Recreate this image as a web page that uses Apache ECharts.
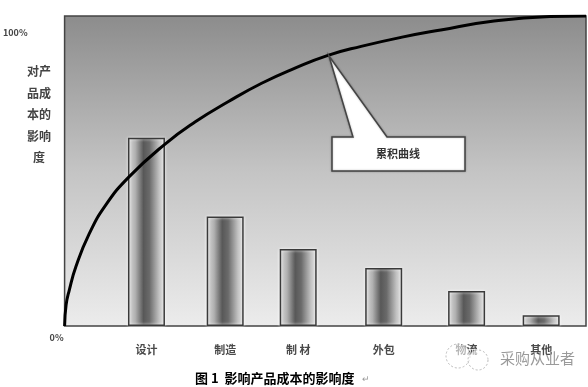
<!DOCTYPE html>
<html><head><meta charset="utf-8">
<script src="https://cdn.jsdelivr.net/npm/echarts@6/dist/echarts.min.js"></script>
<style>html,body{margin:0;padding:0;background:#fff}#c{width:588px;height:387px}</style>
</head><body><div id="c"></div>
<script>
const categories = ['设计', '制造', '制 材', '外包', '物流', '其他'];
const barPositions = [15.7, 30.8, 44.8, 61.2, 77.1, 91.4];
const barValues = [60.7, 35.3, 24.8, 18.7, 11.3, 3.5];
const curveX = [0, 0.29, 0.9, 2.16, 4.71, 7.88, 12.35, 19.27, 25.0, 31.43, 37.79, 44.08, 50.51, 56.87, 64.5, 72.14, 81.68, 93.13, 100];
const curveY = [0, 6.8, 11.6, 19.1, 29.7, 39.0, 48.1, 58.7, 65.8, 72.4, 78.3, 83.1, 87.3, 90.2, 93.1, 95.5, 98.2, 99.8, 100];
const yTickValues = [0, 100];
const yTickLabels = ['0%', '100%'];
const yAxisTitle = '对产\n品成\n本的\n影响\n度';
const calloutText = '累积曲线';
const caption = '图 1  影响产品成本的影响度';
const watermark = '采购从业者';

const FONT = '"Noto Sans CJK SC", sans-serif';
const chart = echarts.init(document.getElementById('c'), null, {renderer: 'canvas'});

function nearestIndex(arr, v) {
  let best = 0;
  for (let i = 1; i < arr.length; i++) if (Math.abs(arr[i] - v) < Math.abs(arr[best] - v)) best = i;
  return best;
}

chart.setOption({
  animation: false,
  backgroundColor: '#fff',
  grid: {
    left: 62, right: 2, top: 16, bottom: 61,
    show: true,
    borderColor: '#444', borderWidth: 1.5,
    backgroundColor: new echarts.graphic.LinearGradient(0, 0, 0, 1, [
      {offset: 0, color: '#8c8c8c'},
      {offset: 0.5, color: '#c4c4c4'},
      {offset: 1, color: '#ececec'}
    ])
  },
  xAxis: {
    type: 'value', min: 0, max: 100,
    axisLine: {show: false}, axisTick: {show: false}, splitLine: {show: false},
    axisLabel: {
      customValues: barPositions,
      margin: 18,
      fontFamily: FONT, fontSize: 11, fontWeight: 'bold', color: '#4a4a4a',
      formatter: v => categories[nearestIndex(barPositions, v)]
    }
  },
  yAxis: {
    type: 'value', min: 0, max: 100,
    axisLine: {show: false}, axisTick: {show: false}, splitLine: {show: false},
    axisLabel: {
      customValues: yTickValues,
      margin: 0,
      formatter: v => (v === 100 ? '{t|' : '{b|') + yTickLabels[nearestIndex(yTickValues, v)] + '}',
      rich: {
        t: {padding: [34, 37, 0, 0], fontFamily: FONT, fontSize: 9, fontWeight: 'bold', color: '#444'},
        b: {padding: [24, 1, 0, 0], fontFamily: FONT, fontSize: 9, fontWeight: 'bold', color: '#444'}
      }
    }
  },
  series: [
    {
      type: 'bar',
      data: barPositions.map((x, i) => [x, barValues[i]]),
      barWidth: 37,
      z: 2,
      itemStyle: {
        borderColor: '#3a3a3a', borderWidth: 1.5,
        shadowColor: 'rgba(255,255,255,0.9)', shadowBlur: 3,
        color: new echarts.graphic.LinearGradient(0, 0, 1, 0, [
          {offset: 0, color: '#dcdcdc'},
          {offset: 0.2, color: '#b0b0b0'},
          {offset: 0.42, color: '#585858'},
          {offset: 0.58, color: '#6a6a6a'},
          {offset: 0.85, color: '#c4c4c4'},
          {offset: 1, color: '#e2e2e2'}
        ])
      }
    },
    {
      type: 'line',
      data: curveX.map((x, i) => [x, curveY[i]]),
      smooth: 0.5,
      symbol: 'none',
      z: 5,
      lineStyle: {color: '#000', width: 3}
    }
  ],
  graphic: [
    {
      type: 'polygon', z: 10,
      shape: {points: [[332, 137], [353, 137], [329, 56], [387, 137], [465, 137], [465, 171], [332, 171]]},
      style: {fill: '#fff', stroke: '#444', lineWidth: 1.5, shadowColor: 'rgba(0,0,0,0.3)', shadowBlur: 2}
    },
    {
      type: 'text', z: 11, x: 398, y: 154,
      style: {text: calloutText, font: 'bold 11px ' + FONT, fill: '#333', align: 'center', verticalAlign: 'middle'}
    },
    {
      type: 'text', z: 11, x: 39, y: 61,
      style: {text: yAxisTitle, font: 'bold 12px ' + FONT, fill: '#444', align: 'center', verticalAlign: 'top', lineHeight: 21.5}
    },
    {
      type: 'text', z: 11, x: 195, y: 378,
      style: {text: caption, font: 'bold 13px ' + FONT, fill: '#000', align: 'left', verticalAlign: 'middle'}
    },
    {
      type: 'text', z: 11, x: 362, y: 379,
      style: {text: '↵', font: '9px ' + FONT, fill: '#999', align: 'left', verticalAlign: 'middle'}
    },
    {
      type: 'circle', z: 9, shape: {cx: 458, cy: 356, r: 12},
      style: {fill: 'rgba(255,255,255,0.6)', stroke: '#bbb', lineWidth: 1, lineDash: [2, 2]}
    },
    {
      type: 'circle', z: 9, shape: {cx: 478, cy: 360, r: 10},
      style: {fill: 'rgba(255,255,255,0.6)', stroke: '#bbb', lineWidth: 1, lineDash: [2, 2]}
    },
    {
      type: 'text', z: 12, x: 500, y: 358,
      style: {text: watermark, font: '15px ' + FONT, fill: '#9a9a9a', align: 'left', verticalAlign: 'middle'}
    }
  ]
});
</script></body></html>
